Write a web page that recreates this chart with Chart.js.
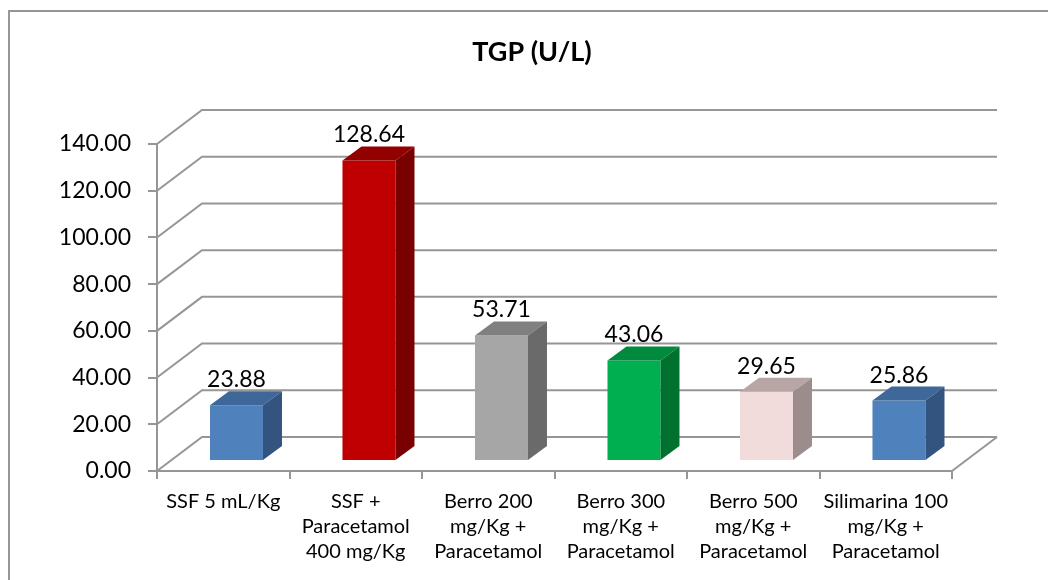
<!DOCTYPE html>
<html>
<head>
<meta charset="utf-8">
<script src="https://cdn.jsdelivr.net/npm/chart.js@4.4.1/dist/chart.umd.min.js"></script>
<style>
  html, body { margin: 0; padding: 0; background: #fff; }
  #wrap { width: 1048px; height: 580px; }
</style>
</head>
<body>
<div id="wrap"><canvas id="tgp-bar" width="1048" height="580"></canvas></div>
<script>
const chartTitle = "TGP (U/L)";
const categories = [
    ["SSF 5 mL/Kg"],
    ["SSF +", "Paracetamol", "400 mg/Kg"],
    ["Berro 200", "mg/Kg +", "Paracetamol"],
    ["Berro 300", "mg/Kg +", "Paracetamol"],
    ["Berro 500", "mg/Kg +", "Paracetamol"],
    ["Silimarina 100", "mg/Kg +", "Paracetamol"]
];
const tgpValues = [23.88, 128.64, 53.71, 43.06, 29.65, 25.86];
const yTicks = [0, 20, 40, 60, 80, 100, 120, 140];

// face colours for the fake 3d bars
const frontColors = ["#4f81bd", "#c00000", "#a6a6a6", "#00b050", "#f2dcdb", "#4f81bd"];
const topColors   = ["#3e6899", "#930000", "#808080", "#008a3d", "#b8a6a5", "#3e6899"];
const sideColors  = ["#32547e", "#790000", "#6a6a6a", "#00712f", "#9c8c8b", "#32547e"];

const FONT = "Lato, 'DejaVu Sans', sans-serif";
const GRID = "#969696";
const WALL_DX = 45, WALL_DY = -34;   // depth of the back wall
const FRONT_F = 0.294;               // bars sit a bit behind the front plane
const BAR_DX = 19, BAR_DY = -14;     // depth of a bar

const fake3d = {
    id: "fake3d",
    beforeDraw(chart) {
        const c = chart.ctx;
        c.save();
        c.fillStyle = "#fff";
        c.fillRect(0, 0, chart.width, chart.height);
        c.strokeStyle = GRID;
        c.lineWidth = 2;
        c.strokeRect(9, 11, 1200, 800);
        c.fillStyle = "#000";
        c.font = "bold 27px " + FONT;
        c.textAlign = "center";
        c.textBaseline = "middle";
        c.fillText(chartTitle, 532, 52);
        c.restore();
    },
    beforeDatasetsDraw(chart) {
        const c = chart.ctx;
        const a = chart.chartArea;
        const y = chart.scales.y;
        c.save();
        c.strokeStyle = GRID;
        c.lineWidth = 2;
        c.beginPath();
        yTicks.forEach(v => {
            const py = y.getPixelForValue(v);
            c.moveTo(a.left, py);
            c.lineTo(a.left + WALL_DX, py + WALL_DY);
            c.lineTo(a.right + WALL_DX, py + WALL_DY);
        });
        c.moveTo(a.right, a.bottom);
        c.lineTo(a.right + WALL_DX, a.bottom + WALL_DY);
        c.stroke();
        c.restore();

        // shift the bars back a little
        c.save();
        c.translate(WALL_DX * FRONT_F, WALL_DY * FRONT_F);
    },
    afterDatasetsDraw(chart) {
        const c = chart.ctx;
        const meta = chart.getDatasetMeta(0);
        meta.data.forEach((bar, i) => {
            const L = bar.x - bar.width / 2, R = bar.x + bar.width / 2;
            const top = bar.y, base = bar.base;
            c.fillStyle = topColors[i];
            c.beginPath();
            c.moveTo(L, top);
            c.lineTo(R, top);
            c.lineTo(R + BAR_DX, top + BAR_DY);
            c.lineTo(L + BAR_DX, top + BAR_DY);
            c.closePath();
            c.fill();
            c.fillStyle = sideColors[i];
            c.beginPath();
            c.moveTo(R, top);
            c.lineTo(R + BAR_DX, top + BAR_DY);
            c.lineTo(R + BAR_DX, base + BAR_DY);
            c.lineTo(R, base);
            c.closePath();
            c.fill();
        });
        c.restore();

        // value labels
        c.save();
        c.fillStyle = "#000";
        c.font = "23px " + FONT;
        c.textAlign = "center";
        c.textBaseline = "middle";
        meta.data.forEach((bar, i) => {
            c.fillText(tgpValues[i].toFixed(2),
                bar.x + WALL_DX * FRONT_F,
                bar.y + WALL_DY * FRONT_F - 25.5);
        });
        c.restore();
    }
};

new Chart(document.getElementById("tgp-bar"), {
    type: "bar",
    data: {
        labels: categories,
        datasets: [{
            label: chartTitle,
            data: tgpValues,
            backgroundColor: frontColors,
            borderWidth: 0,
            categoryPercentage: 1,
            barPercentage: 0.4
        }]
    },
    options: {
        responsive: false,
        animation: false,
        layout: { padding: { top: 144, right: 96, bottom: 0, left: 0 } },
        plugins: {
            legend: { display: false },
            title: { display: false },
            tooltip: { enabled: false }
        },
        scales: {
            x: {
                grid: { drawOnChartArea: false, color: GRID, lineWidth: 2, tickLength: 8 },
                border: { color: GRID, width: 2 },
                ticks: {
                    color: "#000",
                    padding: 10,
                    maxRotation: 0,
                    autoSkip: false,
                    font: { family: FONT, size: 20, lineHeight: 1.25 }
                },
                afterFit: s => { s.height = 109; }
            },
            y: {
                min: 0,
                max: 140,
                grid: { drawOnChartArea: false, color: GRID, lineWidth: 2, tickLength: 9 },
                border: { color: GRID, width: 2 },
                ticks: {
                    stepSize: 20,
                    color: "#000",
                    padding: 17,
                    font: { family: FONT, size: 23 },
                    callback: v => v.toFixed(2)
                },
                afterFit: s => { s.width = 157; }
            }
        }
    },
    plugins: [fake3d]
});
</script>
</body>
</html>
